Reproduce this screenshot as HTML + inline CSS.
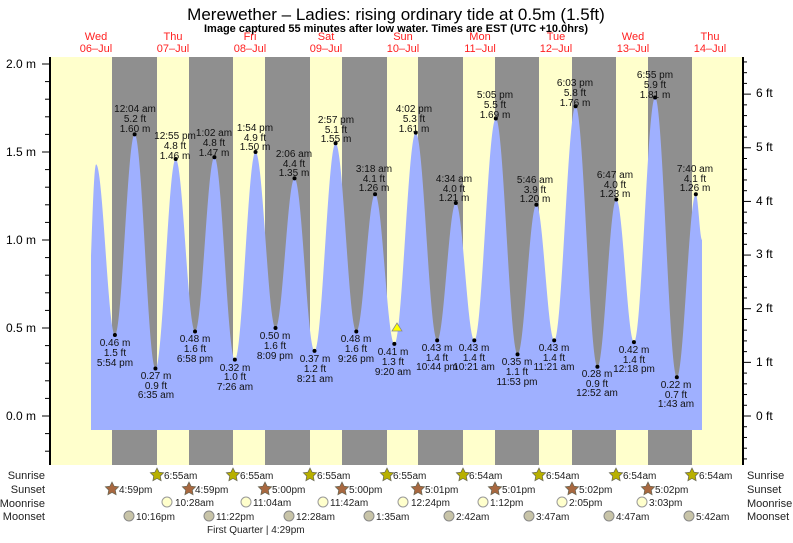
<!DOCTYPE html>
<html><head><meta charset="utf-8"><style>
body{margin:0;background:#fff;width:793px;height:538px;overflow:hidden;font-family:"Liberation Sans",sans-serif}
svg text{font-family:"Liberation Sans",sans-serif}
</style></head><body>
<svg id="s" width="793" height="538" xmlns="http://www.w3.org/2000/svg">
<rect x="50" y="57" width="693" height="408" fill="#ffffcc"/>
<g fill="#8f8f8f">
<rect x="112" y="57" width="45" height="408"/><rect x="189" y="57" width="44" height="408"/>
<rect x="265" y="57" width="45" height="408"/><rect x="342" y="57" width="45" height="408"/>
<rect x="418" y="57" width="45" height="408"/><rect x="495" y="57" width="44" height="408"/>
<rect x="572" y="57" width="44" height="408"/><rect x="648" y="57" width="44" height="408"/>
</g>
<path id="tide" fill="#9fb0ff" d=""/>
<g id="ticks" stroke="#000" stroke-width="1"></g>
<line x1="50" y1="57" x2="50" y2="465" stroke="#000" stroke-width="2"/>
<line x1="743" y1="57" x2="743" y2="465" stroke="#000" stroke-width="2"/>
<polygon points="397,323 392,331 402,331" fill="#ffff00" stroke="#888" stroke-width="0.8"/>
<g font-size="17" text-anchor="middle"><text x="396" y="20">Merewether – Ladies: rising  ordinary tide at 0.5m (1.5ft)</text></g>
<text x="396" y="32" font-size="11" font-weight="bold" text-anchor="middle">Image captured 55 minutes after low water. Times are EST (UTC +10.0hrs)</text>
<g font-size="11" fill="#ff2020" text-anchor="middle">
<text x="96" y="40">Wed</text><text x="96" y="52">06–Jul</text>
<text x="173" y="40">Thu</text><text x="173" y="52">07–Jul</text>
<text x="250" y="40">Fri</text><text x="250" y="52">08–Jul</text>
<text x="326" y="40">Sat</text><text x="326" y="52">09–Jul</text>
<text x="403" y="40">Sun</text><text x="403" y="52">10–Jul</text>
<text x="480" y="40">Mon</text><text x="480" y="52">11–Jul</text>
<text x="556" y="40">Tue</text><text x="556" y="52">12–Jul</text>
<text x="633" y="40">Wed</text><text x="633" y="52">13–Jul</text>
<text x="710" y="40">Thu</text><text x="710" y="52">14–Jul</text>
</g>
<g font-size="12" text-anchor="end">
<text x="36" y="68">2.0 m</text><text x="36" y="156">1.5 m</text><text x="36" y="244">1.0 m</text><text x="36" y="332">0.5 m</text><text x="36" y="420">0.0 m</text>
</g>
<g font-size="12">
<text x="756" y="97">6 ft</text><text x="756" y="151">5 ft</text><text x="756" y="205">4 ft</text><text x="756" y="258">3 ft</text><text x="756" y="312">2 ft</text><text x="756" y="366">1 ft</text><text x="756" y="420">0 ft</text>
</g>
<g id="dots"></g>
<g font-size="10" text-anchor="middle" fill="#111">
<text x="135" y="112">12:04 am</text><text x="135" y="122">5.2 ft</text><text x="135" y="132">1.60 m</text>
<text x="175" y="139">12:55 pm</text><text x="175" y="149">4.8 ft</text><text x="175" y="159">1.46 m</text>
<text x="214" y="136">1:02 am</text><text x="214" y="146">4.8 ft</text><text x="214" y="156">1.47 m</text>
<text x="255" y="131">1:54 pm</text><text x="255" y="141">4.9 ft</text><text x="255" y="150">1.50 m</text>
<text x="294" y="157">2:06 am</text><text x="294" y="167">4.4 ft</text><text x="294" y="176">1.35 m</text>
<text x="336" y="123">2:57 pm</text><text x="336" y="133">5.1 ft</text><text x="336" y="142">1.55 m</text>
<text x="374" y="172">3:18 am</text><text x="374" y="182">4.1 ft</text><text x="374" y="191">1.26 m</text>
<text x="414" y="112">4:02 pm</text><text x="414" y="122">5.3 ft</text><text x="414" y="132">1.61 m</text>
<text x="454" y="182">4:34 am</text><text x="454" y="192">4.0 ft</text><text x="454" y="201">1.21 m</text>
<text x="495" y="98">5:05 pm</text><text x="495" y="108">5.5 ft</text><text x="495" y="118">1.69 m</text>
<text x="535" y="183">5:46 am</text><text x="535" y="193">3.9 ft</text><text x="535" y="202">1.20 m</text>
<text x="575" y="86">6:03 pm</text><text x="575" y="96">5.8 ft</text><text x="575" y="106">1.76 m</text>
<text x="615" y="178">6:47 am</text><text x="615" y="188">4.0 ft</text><text x="615" y="197">1.23 m</text>
<text x="655" y="78">6:55 pm</text><text x="655" y="88">5.9 ft</text><text x="655" y="98">1.81 m</text>
<text x="695" y="172">7:40 am</text><text x="695" y="182">4.1 ft</text><text x="695" y="191">1.26 m</text>
<text x="115" y="346">0.46 m</text><text x="115" y="356">1.5 ft</text><text x="115" y="366">5:54 pm</text>
<text x="156" y="379">0.27 m</text><text x="156" y="389">0.9 ft</text><text x="156" y="398">6:35 am</text>
<text x="195" y="342">0.48 m</text><text x="195" y="352">1.6 ft</text><text x="195" y="362">6:58 pm</text>
<text x="235" y="371">0.32 m</text><text x="235" y="380">1.0 ft</text><text x="235" y="390">7:26 am</text>
<text x="275" y="339">0.50 m</text><text x="275" y="349">1.6 ft</text><text x="275" y="359">8:09 pm</text>
<text x="315" y="362">0.37 m</text><text x="315" y="372">1.2 ft</text><text x="315" y="382">8:21 am</text>
<text x="356" y="342">0.48 m</text><text x="356" y="352">1.6 ft</text><text x="356" y="362">9:26 pm</text>
<text x="393" y="355">0.41 m</text><text x="393" y="365">1.3 ft</text><text x="393" y="375">9:20 am</text>
<text x="437" y="351">0.43 m</text><text x="437" y="361">1.4 ft</text><text x="437" y="370">10:44 pm</text>
<text x="474" y="351">0.43 m</text><text x="474" y="361">1.4 ft</text><text x="474" y="370">10:21 am</text>
<text x="517" y="365">0.35 m</text><text x="517" y="375">1.1 ft</text><text x="517" y="385">11:53 pm</text>
<text x="554" y="351">0.43 m</text><text x="554" y="361">1.4 ft</text><text x="554" y="370">11:21 am</text>
<text x="597" y="377">0.28 m</text><text x="597" y="387">0.9 ft</text><text x="597" y="396">12:52 am</text>
<text x="634" y="353">0.42 m</text><text x="634" y="363">1.4 ft</text><text x="634" y="372">12:18 pm</text>
<text x="676" y="388">0.22 m</text><text x="676" y="398">0.7 ft</text><text x="676" y="407">1:43 am</text>
</g>
<g font-size="11" fill="#222">
<text x="45" y="479" text-anchor="end">Sunrise</text><text x="45" y="493" text-anchor="end">Sunset</text>
<text x="45" y="507" text-anchor="end">Moonrise</text><text x="45" y="520" text-anchor="end">Moonset</text>
<text x="747" y="479">Sunrise</text><text x="747" y="493">Sunset</text>
<text x="747" y="507">Moonrise</text><text x="747" y="520">Moonset</text>
</g>
<g id="icons"></g>
<g font-size="10" fill="#222">
<text x="164" y="479">6:55am</text><text x="240" y="479">6:55am</text><text x="317" y="479">6:55am</text><text x="393" y="479">6:55am</text>
<text x="469" y="479">6:54am</text><text x="546" y="479">6:54am</text><text x="623" y="479">6:54am</text><text x="699" y="479">6:54am</text>
<text x="119" y="493">4:59pm</text><text x="195" y="493">4:59pm</text><text x="272" y="493">5:00pm</text><text x="349" y="493">5:00pm</text>
<text x="425" y="493">5:01pm</text><text x="502" y="493">5:01pm</text><text x="579" y="493">5:02pm</text><text x="655" y="493">5:02pm</text>
<text x="175" y="506">10:28am</text><text x="253" y="506">11:04am</text><text x="330" y="506">11:42am</text><text x="411" y="506">12:24pm</text>
<text x="490" y="506">1:12pm</text><text x="569" y="506">2:05pm</text><text x="649" y="506">3:03pm</text>
<text x="136" y="520">10:16pm</text><text x="216" y="520">11:22pm</text><text x="296" y="520">12:28am</text><text x="376" y="520">1:35am</text>
<text x="456" y="520">2:42am</text><text x="536" y="520">3:47am</text><text x="616" y="520">4:47am</text><text x="696" y="520">5:42am</text>
<text x="207" y="533">First Quarter | 4:29pm</text>
</g>
</svg>
<script>
var X0=57.7,PH=3.196;function X(t){return X0+t*PH}function Y(v){return 416-176*v}
var ex=[[9.8,1.0],[12,1.43],[17.9,.46],[24.07,1.6],[30.58,.27],[36.92,1.46],[42.97,.48],[49.03,1.47],[55.43,.32],[61.9,1.5],[68.15,.5],[74.1,1.35],[80.35,.37],[86.95,1.55],[93.43,.48],[99.3,1.26],[105.33,.41],[112.03,1.61],[118.73,.43],[124.57,1.21],[130.35,.43],[137.08,1.69],[143.88,.35],[149.77,1.2],[155.35,.43],[162.05,1.76],[168.87,.28],[174.78,1.23],[180.3,.42],[186.92,1.81],[193.72,.22],[199.67,1.26],[201.6,1.0]];
var d="M91,430 L91,"+Y(0.9).toFixed(1);
function val(t){for(var i=0;i<ex.length-1;i++){var a=ex[i],b=ex[i+1];if(t>=a[0]&&t<=b[0]){var f=(t-a[0])/(b[0]-a[0]);if(i==0){return 0.9+(1.43-0.9)*Math.sin(f*Math.PI/2)}return a[1]+(b[1]-a[1])*(1-Math.cos(Math.PI*f))/2}}return 1}
ex[0]=[10.4,0.9];
for(var x=91;x<=702;x+=0.5){var t=(x-X0)/PH;d+=" L"+x+","+Y(val(t)).toFixed(1)}
d+=" L702,430 Z";document.getElementById('tide').setAttribute('d',d);
var ns="http://www.w3.org/2000/svg";function el(g,n,a){var e=document.createElementNS(ns,n);for(var k in a)e.setAttribute(k,a[k]);document.getElementById(g).appendChild(e)}
for(var i=-6;i<=20;i++){var y=416-17.6*i;if(y<58||y>464)continue;el('ticks','line',{x1:i%5==0?42:45,y1:y,x2:50,y2:y})}
for(var i=-4;i<=33;i++){var y=416-0.2*0.3048*176*i;if(y<58||y>464)continue;el('ticks','line',{x1:743,y1:y,x2:i%5==0?751:747,y2:y})}
for(var i=2;i<ex.length-1;i++)el('dots','circle',{cx:X(ex[i][0]),cy:Y(ex[i][1]),r:2,fill:'#000'});
function star(cx,cy,f){var p="";for(var k=0;k<10;k++){var r=k%2?3.5:7,a=-Math.PI/2+k*Math.PI/5;p+=(cx+r*Math.cos(a)).toFixed(1)+","+(cy+r*Math.sin(a)).toFixed(1)+" "}el('icons','polygon',{points:p,fill:f,stroke:'#665',"stroke-width":0.7})}
var sr=[157,233,310,387,463,539,616,692],ss=[112,189,265,342,418,495,572,648];
sr.forEach(function(x){star(x,475,'#b8b000')});ss.forEach(function(x){star(x,489,'#a86840')});
[167,246,323,403,483,562,642].forEach(function(x){el('icons','circle',{cx:x,cy:502,r:5,fill:'#ffffcc',stroke:'#999'})});
[129,209,289,369,449,529,609,689].forEach(function(x){el('icons','circle',{cx:x,cy:516,r:5,fill:'#c8c4a8',stroke:'#888'})});
</script>
</body></html>
